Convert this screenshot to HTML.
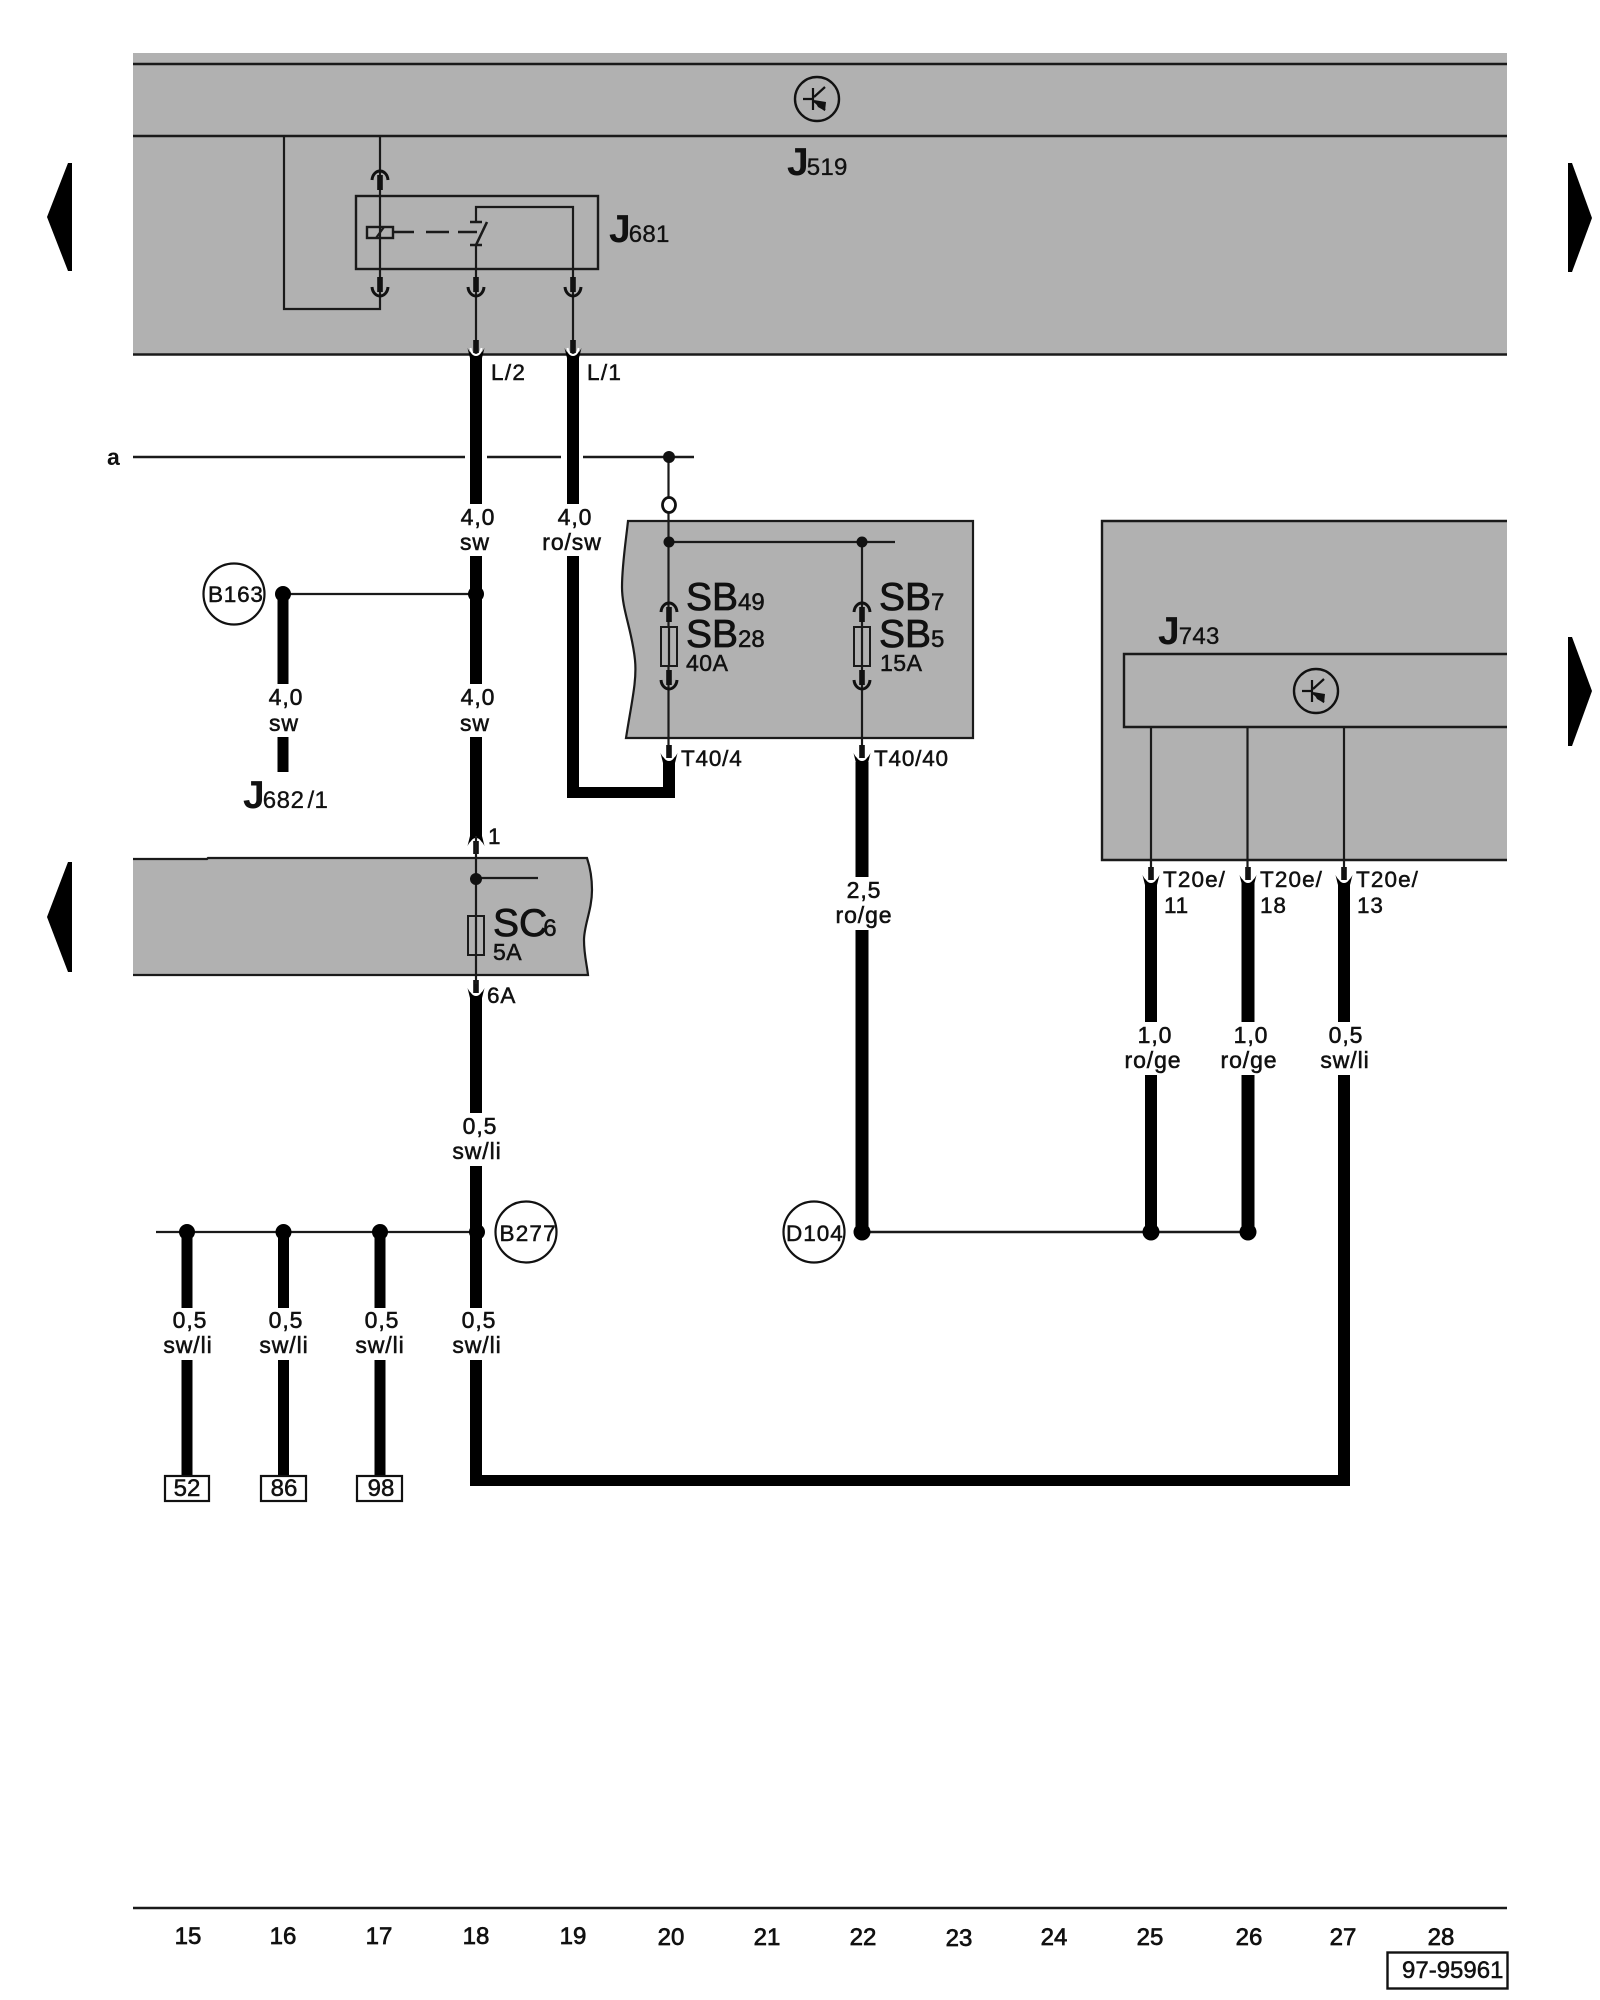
<!DOCTYPE html>
<html><head><meta charset="utf-8">
<style>
html,body{margin:0;padding:0;background:#fff}
svg{display:block}
text{font-family:"Liberation Sans",sans-serif;fill:#111}
.l{font-size:23px;letter-spacing:.9px;text-anchor:middle;stroke:#111;stroke-width:.55}
.p{font-size:22.5px;letter-spacing:.8px;stroke:#111;stroke-width:.5}
.n{font-size:24px;text-anchor:middle;stroke:#111;stroke-width:.7}
.J{font-size:39px;font-weight:bold}
.s{font-size:24px;font-weight:normal;letter-spacing:.3px;stroke:#111;stroke-width:.35}
.B{font-size:39px;stroke:#111;stroke-width:.8}
.sb{font-size:24px;stroke-width:.5}
.c{font-size:23px;letter-spacing:.5px;stroke:#111;stroke-width:.5}
</style></head><body>
<svg width="1600" height="2000" viewBox="0 0 1600 2000" xmlns="http://www.w3.org/2000/svg">
<defs>
<g id="dn">
<rect x="-2.8" y="-13" width="5.6" height="15" fill="#111"/>
<path d="M-8,-3 C-7.5,3 -3.5,6 0,6 C3.5,6 7.500,3 8,-3" fill="none" stroke="#111" stroke-width="3"/>
</g>
<g id="up"><use href="#dn" transform="scale(1,-1)"/></g>
<g id="dnw">
<path d="M-8.500,-4 L-6,6 L-6,12 L6,12 L6,6 L8.500,-4 C6,1 3,3 0,3 C-3,3 -6,1 -8.500,-4Z" fill="#000"/>
<path d="M-5.5,-4 C-5,0 -3,3 0,3 C3,3 5,0 5.5,-4" fill="none" stroke="#fff" stroke-width="2"/>
<rect x="-2.8" y="-12" width="5.6" height="13" fill="#111"/>
</g>
<g id="tr">
<circle r="22" fill="none" stroke="#111" stroke-width="2.4"/>
<path d="M-14,0H-4M-4,-11V11M-3,-2L8,-12M-3,2L8,11" fill="none" stroke="#111" stroke-width="2.2"/>
<path d="M-3,1L9,3L8,12L1,8Z" fill="#111"/>
</g>
</defs>

<!-- gray blocks -->
<rect x="133" y="53" width="1374" height="301" fill="#b1b1b1"/>
<path d="M133,64H1507M133,136H1507M133,354.5H1507" stroke="#1a1a1a" stroke-width="2.4" fill="none"/>
<path d="M628,521H973V738H626C632,700 637,680 635,660C632,630 622,610 622,587C622,565 626,540 628,521Z" fill="#b1b1b1" stroke="#1a1a1a" stroke-width="2.2"/>
<path d="M1507,521H1102V860H1507" fill="#b1b1b1" stroke="#1a1a1a" stroke-width="2.4"/>
<path d="M133,858H587C591,870 592,880 592,890C592,910 584,925 584,940C584,955 587,965 588,975H133Z" fill="#b1b1b1"/>
<path d="M133,859H207L208,858H587C591,870 592,880 592,890C592,910 584,925 584,940C584,955 587,965 588,975H133" fill="none" stroke="#1a1a1a" stroke-width="2.2"/>
<path d="M1507,654H1124V727H1507" fill="none" stroke="#1a1a1a" stroke-width="2.4"/>

<!-- nav arrows -->
<g fill="#000">
<path d="M47,217L68,163H72V271H68Z"/>
<path d="M47,917L68,862H72V972H68Z"/>
<path d="M1592,218L1572,163H1568V272H1572Z"/>
<path d="M1592,691L1572,637H1568V746H1572Z"/>
</g>

<!-- J519 -->
<use href="#tr" x="817" y="99"/>
<text x="787" y="175" class="J">J<tspan class="s" dx="-2">519</tspan></text>

<!-- relay J681 -->
<g fill="none" stroke="#1a1a1a" stroke-width="2.2">
<path d="M284,136V309H380V136"/>
<rect x="356" y="196" width="242" height="73" stroke-width="2.4"/>
<path d="M476,245V354M476,222V207H573V354"/>
<path d="M470,222H482M470,245H482M476,245L487,222" stroke-width="2.6"/>
<path d="M394,232H414M426,232H449M458,232H477" stroke-width="2.6"/>
<rect x="367" y="227" width="26" height="11" stroke-width="2.4"/>
<path d="M376,238L384,227" stroke-width="2.2"/>
</g>
<use href="#up" x="380" y="177"/>
<use href="#dn" x="380" y="290"/>
<use href="#dn" x="476" y="290"/>
<use href="#dn" x="573" y="290"/>
<text x="609" y="242" class="J">J<tspan class="s" dx="-2">681</tspan></text>

<!-- a bus -->
<path d="M133,457H465M487,457H561M583,457H694" stroke="#1a1a1a" stroke-width="2.4" fill="none"/>
<text x="107" y="465" style="font-size:23px;font-weight:bold">a</text>
<path d="M668.5,457V542M668.5,542V748M862,542V748M668,542H895" stroke="#1a1a1a" stroke-width="2.2" fill="none"/>
<circle cx="669" cy="457" r="6" fill="#111"/>
<ellipse cx="669" cy="505" rx="6.5" ry="7.5" fill="#fff" stroke="#111" stroke-width="2.8"/>
<circle cx="669" cy="542" r="5.5" fill="#111"/>
<circle cx="862" cy="542" r="5.5" fill="#111"/>

<!-- thick wires -->
<g fill="#000">
<rect x="470" y="360" width="12" height="144"/>
<rect x="567" y="360" width="12" height="144"/>
<rect x="470" y="556" width="12" height="128"/>
<rect x="470" y="737" width="12" height="99"/>
<rect x="567" y="556" width="12" height="242"/>
<rect x="567" y="787" width="108" height="11"/>
<rect x="663" y="762" width="12" height="36"/>
<rect x="277.500" y="594" width="11" height="90"/>
<rect x="277.500" y="737" width="11" height="35"/>
<rect x="470" y="997" width="12" height="116"/>
<rect x="470" y="1166" width="12" height="142"/>
<rect x="470" y="1360" width="12" height="126"/>
<rect x="470" y="1475" width="880" height="11"/>
<rect x="1338" y="1075" width="12" height="411"/>
<rect x="1338" y="882" width="12" height="140"/>
<rect x="855.500" y="762" width="13" height="115"/>
<rect x="855.500" y="930" width="13" height="302"/>
<rect x="1145" y="882" width="12" height="140"/>
<rect x="1145" y="1075" width="12" height="157"/>
<rect x="1241.500" y="882" width="13" height="140"/>
<rect x="1241.500" y="1075" width="13" height="157"/>
<rect x="181.500" y="1232" width="11" height="76"/>
<rect x="181.500" y="1360" width="11" height="115"/>
<rect x="278" y="1232" width="11" height="76"/>
<rect x="278" y="1360" width="11" height="115"/>
<rect x="374.500" y="1232" width="11" height="76"/>
<rect x="374.500" y="1360" width="11" height="115"/>
</g>

<!-- connector symbols on thick wires -->
<use href="#dnw" x="476" y="352"/>
<use href="#dnw" x="573" y="352"/>
<use href="#dnw" x="669" y="757"/>
<use href="#dnw" x="862" y="757"/>
<use href="#dnw" x="1151" y="879"/>
<use href="#dnw" x="1248" y="879"/>
<use href="#dnw" x="1344" y="879"/>
<use href="#dnw" x="476" y="992"/>
<use href="#dnw" transform="translate(476,842) scale(1,-1)"/>

<!-- fuses SB -->
<use href="#up" x="669" y="609"/>
<use href="#dn" x="669" y="683"/>
<use href="#up" x="862" y="609"/>
<use href="#dn" x="862" y="683"/>
<rect x="661" y="627" width="16" height="39" fill="#b1b1b1" stroke="#1a1a1a" stroke-width="2"/>
<rect x="854" y="627" width="16" height="39" fill="#b1b1b1" stroke="#1a1a1a" stroke-width="2"/>
<path d="M669,627V666M862,627V666" stroke="#1a1a1a" stroke-width="2.2"/>
<text x="686" y="610" class="B">SB<tspan class="sb">49</tspan></text>
<text x="686" y="647" class="B">SB<tspan class="sb">28</tspan></text>
<text x="686" y="671" class="c">40A</text>
<text x="879" y="610" class="B">SB<tspan class="sb">7</tspan></text>
<text x="879" y="647" class="B">SB<tspan class="sb">5</tspan></text>
<text x="880" y="671" class="c">15A</text>
<text x="681" y="766" class="p">T40/4</text>
<text x="874" y="766" class="p">T40/40</text>

<!-- J743 -->
<path d="M1151,727V870M1247.500,727V870M1344,727V870" stroke="#1a1a1a" stroke-width="2.2" fill="none"/>
<use href="#tr" x="1316" y="691"/>
<text x="1158" y="644" class="J">J<tspan class="s" dx="-1">743</tspan></text>
<text x="1163" y="887" class="p" style="letter-spacing:1.1px">T20e/</text>
<text x="1164" y="913" class="p">11</text>
<text x="1260" y="887" class="p" style="letter-spacing:1.1px">T20e/</text>
<text x="1260" y="913" class="p">18</text>
<text x="1356" y="887" class="p" style="letter-spacing:1.1px">T20e/</text>
<text x="1357" y="913" class="p">13</text>

<!-- SC6 -->
<path d="M476,836V984M476,878H538" stroke="#1a1a1a" stroke-width="2.2" fill="none"/>
<circle cx="476" cy="879" r="6" fill="#111"/>
<rect x="468" y="916" width="16" height="39" fill="#b1b1b1" stroke="#1a1a1a" stroke-width="2"/>
<path d="M476,916V955" stroke="#1a1a1a" stroke-width="2.2"/>
<text x="493" y="936" class="B">SC<tspan class="sb" dx="-4">6</tspan></text>
<text x="493" y="960" class="c">5A</text>
<text x="487" y="1003" class="p">6A</text>
<text x="488" y="844" class="p">1</text>

<!-- L labels -->
<text x="491" y="380" class="p" style="letter-spacing:1.3px">L/2</text>
<text x="587" y="380" class="p" style="letter-spacing:1.3px">L/1</text>

<!-- wire labels -->
<text x="478" y="525" class="l">4,0</text><text x="475" y="550" class="l">sw</text>
<text x="575" y="525" class="l">4,0</text><text x="572" y="550" class="l">ro/sw</text>
<text x="478" y="705" class="l">4,0</text><text x="475" y="731" class="l">sw</text>
<text x="286" y="705" class="l">4,0</text><text x="284" y="731" class="l">sw</text>
<text x="864" y="898" class="l">2,5</text><text x="864" y="923" class="l">ro/ge</text>
<text x="1155" y="1043" class="l">1,0</text><text x="1153" y="1068" class="l">ro/ge</text>
<text x="1251" y="1043" class="l">1,0</text><text x="1249" y="1068" class="l">ro/ge</text>
<text x="1346" y="1043" class="l">0,5</text><text x="1345" y="1068" class="l">sw/li</text>
<text x="480" y="1134" class="l">0,5</text><text x="477" y="1159" class="l">sw/li</text>
<text x="190" y="1328" class="l">0,5</text><text x="188" y="1353" class="l">sw/li</text>
<text x="286" y="1328" class="l">0,5</text><text x="284" y="1353" class="l">sw/li</text>
<text x="382" y="1328" class="l">0,5</text><text x="380" y="1353" class="l">sw/li</text>
<text x="479" y="1328" class="l">0,5</text><text x="477" y="1353" class="l">sw/li</text>

<!-- J682 -->
<text x="243" y="808" class="J">J<tspan class="s" dx="-2" style="letter-spacing:.6px">682</tspan><tspan class="s" dx="3">/1</tspan></text>

<!-- B163 -->
<path d="M283,594H476" stroke="#1a1a1a" stroke-width="2.2" fill="none"/>
<circle cx="283" cy="594" r="8" fill="#000"/>
<circle cx="476" cy="594" r="8" fill="#000"/>
<circle cx="234" cy="594" r="30.500" fill="none" stroke="#111" stroke-width="2.2"/>
<text x="208" y="602" class="p">B163</text>

<!-- bottom bus -->
<path d="M156,1232H476" stroke="#1a1a1a" stroke-width="2.2" fill="none"/>
<circle cx="187" cy="1232" r="8" fill="#000"/>
<circle cx="283.500" cy="1232" r="8" fill="#000"/>
<circle cx="380" cy="1232" r="8" fill="#000"/>
<circle cx="477" cy="1232" r="8" fill="#000"/>
<circle cx="526" cy="1232" r="30.500" fill="none" stroke="#111" stroke-width="2.2"/>
<text x="499.500" y="1241" class="p" style="letter-spacing:1.2px">B277</text>
<path d="M862,1232H1248" stroke="#1a1a1a" stroke-width="2.4" fill="none"/>
<circle cx="862" cy="1232" r="8.500" fill="#000"/>
<circle cx="1151" cy="1232" r="8.500" fill="#000"/>
<circle cx="1248" cy="1232" r="8.500" fill="#000"/>
<circle cx="814" cy="1232" r="30.500" fill="none" stroke="#111" stroke-width="2.2"/>
<text x="786" y="1241" class="p" style="letter-spacing:1px">D104</text>

<!-- terminal boxes -->
<g fill="#fff" stroke="#111" stroke-width="2.2">
<rect x="165" y="1476" width="44" height="25"/>
<rect x="261" y="1476" width="45" height="25"/>
<rect x="357" y="1476" width="45" height="25"/>
</g>
<text x="187" y="1496" class="n" style="stroke-width:.5">52</text>
<text x="284" y="1496" class="n" style="stroke-width:.5">86</text>
<text x="381" y="1496" class="n" style="stroke-width:.5">98</text>

<!-- footer -->
<path d="M133,1908H1507" stroke="#1a1a1a" stroke-width="2.4"/>
<g>
<text x="188" y="1944" class="n">15</text>
<text x="283" y="1944" class="n">16</text>
<text x="379" y="1944" class="n">17</text>
<text x="476" y="1944" class="n">18</text>
<text x="573" y="1944" class="n">19</text>
<text x="671" y="1945" class="n">20</text>
<text x="767" y="1945" class="n">21</text>
<text x="863" y="1945" class="n">22</text>
<text x="959" y="1946" class="n">23</text>
<text x="1054" y="1945" class="n">24</text>
<text x="1150" y="1945" class="n">25</text>
<text x="1249" y="1945" class="n">26</text>
<text x="1343" y="1945" class="n">27</text>
<text x="1441" y="1945" class="n">28</text>
</g>
<rect x="1387.500" y="1952.500" width="120" height="36" fill="#fff" stroke="#111" stroke-width="2.4"/>
<text x="1402" y="1978" style="font-size:24px;stroke:#111;stroke-width:.5">97-95961</text>
</svg>
</body></html>
